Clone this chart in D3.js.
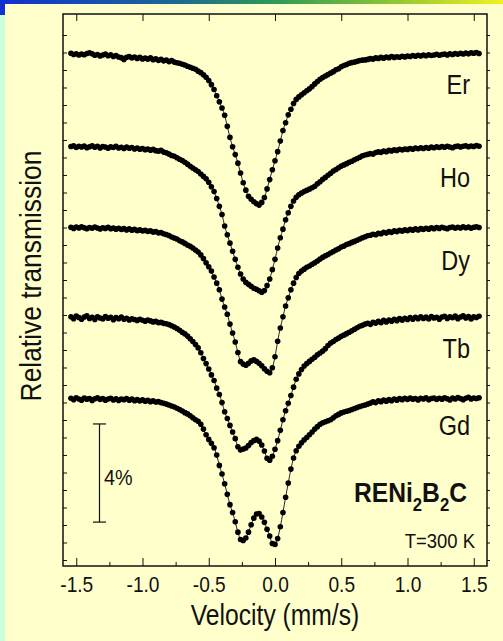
<!DOCTYPE html>
<html>
<head>
<meta charset="utf-8">
<script src="https://cdn.jsdelivr.net/npm/d3@7"></script>
<style>
  body { margin: 0; background: #ffffcc; }
  svg { display: block; }
</style>
</head>
<body>
<svg id="chart"></svg>
<script>
// kanaal-kalibratie: snelheid van het eerste kanaal en de stapgrootte (mm/s)
const velocityStart = -1.54;
const velocityStep = 0.02;

// relatieve transmissie (%) per kanaal
const er = [
  0.03,-0.02,0.01,-0.04,0.00,-0.03,0.02,0.05,0.01,-0.05,
  -0.02,-0.08,-0.04,0.00,-0.07,-0.03,-0.10,-0.06,-0.12,-0.15,
  -0.22,-0.13,-0.10,-0.16,-0.12,-0.18,-0.14,-0.20,-0.17,-0.21,
  -0.16,-0.23,-0.20,-0.26,-0.22,-0.28,-0.25,-0.31,-0.27,-0.33,
  -0.36,-0.38,-0.42,-0.45,-0.50,-0.54,-0.58,-0.62,-0.70,-0.76,
  -0.85,-0.95,-1.08,-1.25,-1.45,-1.70,-1.95,-2.20,-2.50,-2.95,
  -3.40,-3.78,-4.10,-4.45,-4.85,-5.25,-5.55,-5.80,-5.92,-6.02,
  -6.10,-6.16,-6.05,-5.85,-5.50,-5.12,-4.72,-4.35,-3.98,-3.55,
  -3.12,-2.80,-2.48,-2.25,-2.02,-1.85,-1.75,-1.66,-1.58,-1.50,
  -1.42,-1.33,-1.22,-1.12,-1.03,-0.96,-0.90,-0.84,-0.78,-0.72,
  -0.64,-0.60,-0.52,-0.47,-0.43,-0.38,-0.35,-0.33,-0.30,-0.27,
  -0.25,-0.24,-0.22,-0.19,-0.21,-0.16,-0.18,-0.14,-0.17,-0.12,
  -0.15,-0.10,-0.14,-0.11,-0.13,-0.09,-0.12,-0.08,-0.10,-0.06,
  -0.09,-0.05,-0.08,-0.04,-0.07,-0.03,-0.06,-0.04,-0.01,-0.05,
  -0.02,0.00,-0.04,0.01,-0.02,0.02,-0.01,0.03,0.00,0.04,
  0.01,0.05,0.03,0.06,0.02
];
const ho = [
  0.02,0.05,-0.02,0.03,0.00,0.04,-0.03,0.01,0.05,-0.01,
  0.03,-0.04,0.02,0.00,-0.05,0.01,-0.02,0.03,-0.04,-0.01,
  -0.06,0.00,-0.05,-0.02,-0.08,-0.04,-0.09,-0.06,-0.11,-0.08,
  -0.13,-0.10,-0.15,-0.17,-0.14,-0.21,-0.24,-0.29,-0.35,-0.38,
  -0.44,-0.50,-0.55,-0.62,-0.70,-0.79,-0.86,-0.93,-1.00,-1.10,
  -1.20,-1.30,-1.44,-1.62,-1.82,-2.10,-2.42,-2.75,-3.22,-3.58,
  -3.92,-4.25,-4.58,-4.90,-5.18,-5.38,-5.52,-5.60,-5.68,-5.76,
  -5.80,-5.86,-5.92,-5.85,-5.65,-5.38,-5.00,-4.58,-4.12,-3.70,
  -3.35,-2.97,-2.68,-2.42,-2.20,-2.05,-1.95,-1.88,-1.82,-1.77,
  -1.72,-1.66,-1.60,-1.50,-1.42,-1.32,-1.24,-1.15,-1.07,-0.98,
  -0.92,-0.85,-0.78,-0.73,-0.68,-0.62,-0.58,-0.52,-0.47,-0.42,
  -0.36,-0.33,-0.30,-0.27,-0.29,-0.23,-0.20,-0.22,-0.17,-0.19,
  -0.14,-0.16,-0.12,-0.14,-0.09,-0.12,-0.08,-0.10,-0.06,-0.09,
  -0.04,-0.07,-0.03,-0.06,-0.02,-0.05,0.00,-0.03,0.01,-0.02,
  0.02,-0.01,0.03,0.00,-0.03,0.02,0.04,0.00,0.03,0.05,
  0.01,0.04,0.02,0.06,0.03
];
const dy = [
  0.03,-0.02,0.04,0.00,0.05,0.01,-0.03,0.02,-0.01,0.04,
  0.00,-0.04,0.01,-0.02,0.03,-0.03,0.00,-0.05,-0.01,-0.06,
  -0.03,-0.08,-0.04,-0.09,-0.06,-0.11,-0.08,-0.12,-0.10,-0.14,
  -0.12,-0.17,-0.15,-0.20,-0.19,-0.24,-0.27,-0.31,-0.37,-0.41,
  -0.45,-0.52,-0.57,-0.63,-0.70,-0.75,-0.82,-0.90,-0.98,-1.10,
  -1.25,-1.42,-1.58,-1.76,-2.00,-2.25,-2.52,-2.90,-3.22,-3.52,
  -3.92,-4.28,-4.65,-5.08,-5.45,-5.55,-5.60,-5.52,-5.42,-5.38,
  -5.44,-5.52,-5.62,-5.74,-5.84,-5.90,-5.70,-5.25,-4.62,-4.08,
  -3.62,-3.18,-2.85,-2.52,-2.25,-2.02,-1.86,-1.76,-1.68,-1.60,
  -1.55,-1.48,-1.42,-1.35,-1.27,-1.20,-1.14,-1.08,-1.02,-0.96,
  -0.90,-0.85,-0.78,-0.74,-0.68,-0.64,-0.59,-0.55,-0.50,-0.45,
  -0.40,-0.36,-0.32,-0.30,-0.26,-0.28,-0.22,-0.24,-0.18,-0.21,
  -0.15,-0.18,-0.12,-0.15,-0.10,-0.13,-0.08,-0.11,-0.06,-0.09,
  -0.04,-0.08,-0.03,-0.06,-0.01,-0.05,0.01,-0.03,0.02,-0.02,
  0.03,0.00,-0.03,0.02,0.04,-0.01,0.03,0.00,0.05,0.01,
  0.04,-0.01,0.03,0.05,0.02
];
const tb = [
  0.05,-0.03,0.08,0.02,-0.05,0.04,0.09,-0.02,0.03,-0.06,
  0.05,0.00,-0.04,0.06,-0.01,0.03,-0.07,0.02,-0.03,0.04,
  -0.05,-0.01,-0.08,-0.03,-0.06,-0.10,-0.05,-0.09,-0.13,-0.08,
  -0.12,-0.16,-0.14,-0.19,-0.18,-0.22,-0.24,-0.27,-0.32,-0.37,
  -0.43,-0.50,-0.58,-0.65,-0.74,-0.85,-0.96,-1.08,-1.22,-1.42,
  -1.65,-1.86,-2.08,-2.32,-2.55,-2.86,-3.12,-3.45,-3.82,-4.10,
  -4.38,-4.65,-4.92,-5.25,-5.38,-5.34,-5.30,-5.20,-5.08,-5.00,
  -4.95,-5.02,-5.18,-5.42,-5.72,-5.80,-5.64,-5.35,-5.00,-4.58,
  -4.15,-3.78,-3.48,-3.16,-2.82,-2.50,-2.28,-2.10,-1.96,-1.86,
  -1.77,-1.68,-1.60,-1.50,-1.43,-1.35,-1.25,-1.12,-1.02,-0.96,
  -0.88,-0.82,-0.75,-0.70,-0.64,-0.58,-0.52,-0.46,-0.40,-0.34,
  -0.30,-0.25,-0.22,-0.26,-0.18,-0.21,-0.14,-0.19,-0.10,-0.16,
  -0.08,-0.13,-0.05,-0.11,-0.02,-0.09,-0.01,-0.06,0.02,-0.05,
  0.03,-0.03,0.05,-0.02,0.04,-0.04,0.06,0.00,0.03,-0.05,
  0.04,0.07,-0.02,0.05,0.01,0.08,-0.03,0.04,0.09,0.00,
  0.06,-0.04,0.05,0.02,0.07
];
const gd = [
  0.04,-0.02,0.06,0.01,-0.04,0.05,0.00,0.03,-0.05,0.02,
  0.06,-0.01,0.03,-0.04,0.01,0.04,-0.03,0.02,-0.05,0.00,
  -0.02,0.03,-0.04,0.00,-0.06,-0.02,-0.07,-0.03,-0.08,-0.05,
  -0.10,-0.07,-0.12,-0.10,-0.14,-0.17,-0.20,-0.24,-0.28,-0.32,
  -0.37,-0.42,-0.48,-0.55,-0.60,-0.68,-0.76,-0.84,-0.90,-1.02,
  -1.22,-1.45,-1.64,-1.80,-1.98,-2.28,-2.70,-3.05,-3.45,-3.88,
  -4.30,-4.62,-5.00,-5.42,-5.72,-5.76,-5.66,-5.42,-5.12,-4.85,
  -4.68,-4.66,-4.80,-5.02,-5.30,-5.58,-5.88,-5.92,-5.68,-5.20,
  -4.62,-4.00,-3.42,-2.85,-2.40,-2.10,-1.92,-1.78,-1.66,-1.56,
  -1.45,-1.34,-1.22,-1.12,-1.02,-0.96,-0.92,-0.88,-0.84,-0.76,
  -0.68,-0.62,-0.56,-0.52,-0.49,-0.46,-0.42,-0.38,-0.34,-0.30,
  -0.27,-0.24,-0.20,-0.16,-0.11,-0.14,-0.07,-0.10,-0.04,-0.08,
  -0.02,-0.06,0.01,-0.04,0.03,-0.02,0.04,-0.01,0.05,0.00,
  0.03,-0.03,0.04,0.01,0.06,-0.02,0.03,0.05,-0.01,0.04,
  0.00,0.06,0.02,-0.03,0.05,0.01,0.07,0.03,-0.02,0.04,
  0.08,0.01,0.05,0.03,0.06
];

const spectraNames = ["Er", "Ho", "Dy", "Tb", "Gd"];
const spectraValues = [er, ho, dy, tb, gd];
// verschuiving van elke spectrum (in %) zodat ze onder elkaar staan
const baselineOffsets = [-1.63, -5.42, -8.72, -12.39, -15.70];

const xTickValues = [-1.5, -1.0, -0.5, 0.0, 0.5, 1.0, 1.5];
const xTickLabels = ["-1.5", "-1.0", "-0.5", "0.0", "0.5", "1.0", "1.5"];
const xMinorTicks = [-1.25, -0.75, -0.25, 0.25, 0.75, 1.25];

// schaalbalk: 4% transmissie
const scaleBarTop = -16.71;
const scaleBarSize = 4;

// afmetingen
const width = 503;
const height = 641;
const plot = { left: 63, right: 487, top: 14, bottom: 566 };
const font = "'Liberation Sans', Arial, sans-serif";
const ink = "#111";

const svg = d3.select("#chart")
  .attr("width", width)
  .attr("height", height);

// smalle letters: horizontaal samendrukken rond het ankerpunt
const narrowText = (px, py, sx, extra = "") =>
  `translate(${px},${py}) ${extra} scale(${sx},1)`;

// achtergrond met de gekleurde randen
const defs = svg.append("defs");
const grad = defs.append("linearGradient").attr("id", "topbar");
[["0%", "#1030d0"], ["35%", "#1a6a95"], ["55%", "#2e9a55"], ["80%", "#98c832"], ["100%", "#f2f21e"]]
  .forEach(s => grad.append("stop").attr("offset", s[0]).attr("stop-color", s[1]));

svg.append("rect").attr("width", width).attr("height", height).attr("fill", "#ffffcc");
svg.append("rect").attr("x", 0).attr("y", 0).attr("width", 5).attr("height", height).attr("fill", "#ccffdd");
svg.append("rect").attr("x", 0).attr("y", 0).attr("width", width).attr("height", 4).attr("fill", "url(#topbar)");
svg.append("rect").attr("x", 0).attr("y", 0).attr("width", 5).attr("height", 15).attr("fill", "#1030d0");

// schalen
const x = d3.scaleLinear().domain([-1.6, 1.6]).range([plot.left, plot.right]);
const y = d3.scaleLinear().domain([-22.5, 0]).range([plot.bottom, plot.top]);

// assen
const bottomAxis = svg.append("g")
  .attr("transform", `translate(0,${plot.bottom})`)
  .call(d3.axisBottom(x).tickValues(xTickValues)
    .tickFormat((d, i) => xTickLabels[i])
    .tickSizeInner(-8).tickSizeOuter(0).tickPadding(10));
bottomAxis.selectAll("text")
  .attr("font-family", font).attr("font-size", 22).attr("fill", ink)
  .attr("transform", "scale(0.87,1)");

svg.append("g")
  .attr("transform", `translate(0,${plot.bottom})`)
  .call(d3.axisBottom(x).tickValues(xMinorTicks).tickFormat("")
    .tickSizeInner(-4).tickSizeOuter(0));

svg.append("g")
  .attr("transform", `translate(0,${plot.top})`)
  .call(d3.axisTop(x).tickValues(xTickValues).tickFormat("")
    .tickSizeInner(-7).tickSizeOuter(0));

const yTicks = d3.range(-0.856, -22.5, -0.7133);
svg.append("g")
  .attr("transform", `translate(${plot.left},0)`)
  .call(d3.axisLeft(y).tickValues(yTicks).tickFormat("")
    .tickSizeInner(-4).tickSizeOuter(0));
svg.append("g")
  .attr("transform", `translate(${plot.right},0)`)
  .call(d3.axisRight(y).tickValues(yTicks).tickFormat("")
    .tickSizeInner(3).tickSizeOuter(0));

svg.selectAll(".domain").remove();
svg.selectAll(".tick line").attr("stroke", ink).attr("stroke-width", 1);

// kader
svg.append("rect")
  .attr("x", plot.left).attr("y", plot.top)
  .attr("width", plot.right - plot.left).attr("height", plot.bottom - plot.top)
  .attr("fill", "none").attr("stroke", ink).attr("stroke-width", 1.5);

// spectra
const series = spectraNames.map((name, k) => ({
  name,
  offset: baselineOffsets[k],
  points: spectraValues[k].map((t, i) => ({
    v: velocityStart + i * velocityStep,
    t: t + baselineOffsets[k]
  }))
}));

const line = d3.line()
  .x(d => x(d.v))
  .y(d => y(d.t))
  .curve(d3.curveMonotoneX);

const groups = svg.append("g").selectAll("g")
  .data(series)
  .join("g");

groups.append("path")
  .attr("d", d => line(d.points))
  .attr("fill", "none")
  .attr("stroke", ink)
  .attr("stroke-width", 0.9);

groups.selectAll("circle")
  .data(d => d.points)
  .join("circle")
  .attr("cx", d => x(d.v))
  .attr("cy", d => y(d.t))
  .attr("r", 2.8)
  .attr("fill", "#000");

// namen van de spectra
const labelDy = [40, 40, 42, 40, 36];
groups.append("text")
  .attr("transform", (d, i) => narrowText(470, y(d.offset) + labelDy[i], 0.87))
  .attr("text-anchor", "end")
  .attr("font-family", font)
  .attr("font-size", 27)
  .attr("fill", ink)
  .text(d => d.name);

// schaalbalk
const barX = 99.5;
svg.append("line")
  .attr("x1", barX).attr("x2", barX)
  .attr("y1", y(scaleBarTop)).attr("y2", y(scaleBarTop - scaleBarSize))
  .attr("stroke", ink).attr("stroke-width", 1.2);
[scaleBarTop, scaleBarTop - scaleBarSize].forEach(v => {
  svg.append("line")
    .attr("x1", barX - 6.5).attr("x2", barX + 6.5)
    .attr("y1", y(v)).attr("y2", y(v))
    .attr("stroke", ink).attr("stroke-width", 1.2);
});
svg.append("text")
  .attr("transform", narrowText(104, 485, 0.9))
  .attr("font-family", font).attr("font-size", 22).attr("fill", ink)
  .text("4%");

// formule en temperatuur
const formula = svg.append("text")
  .attr("transform", narrowText(467, 502, 0.88))
  .attr("text-anchor", "end")
  .attr("font-family", font).attr("font-size", 28).attr("font-weight", "bold")
  .attr("fill", ink);
formula.append("tspan").text("RENi");
formula.append("tspan").attr("dy", 9).attr("font-size", 19).text("2");
formula.append("tspan").attr("dy", -9).text("B");
formula.append("tspan").attr("dy", 9).attr("font-size", 19).text("2");
formula.append("tspan").attr("dy", -9).text("C");

svg.append("text")
  .attr("transform", narrowText(475, 548, 0.88))
  .attr("text-anchor", "end")
  .attr("font-family", font).attr("font-size", 21).attr("fill", ink)
  .text("T=300 K");

// astitels
svg.append("text")
  .attr("transform", narrowText(275, 625, 0.85))
  .attr("text-anchor", "middle")
  .attr("font-family", font).attr("font-size", 29).attr("fill", ink)
  .text("Velocity (mm/s)");

svg.append("text")
  .attr("transform", narrowText(41, 276, 0.88, "rotate(-90)"))
  .attr("text-anchor", "middle")
  .attr("font-family", font).attr("font-size", 30).attr("fill", ink)
  .text("Relative transmission");
</script>
</body>
</html>
